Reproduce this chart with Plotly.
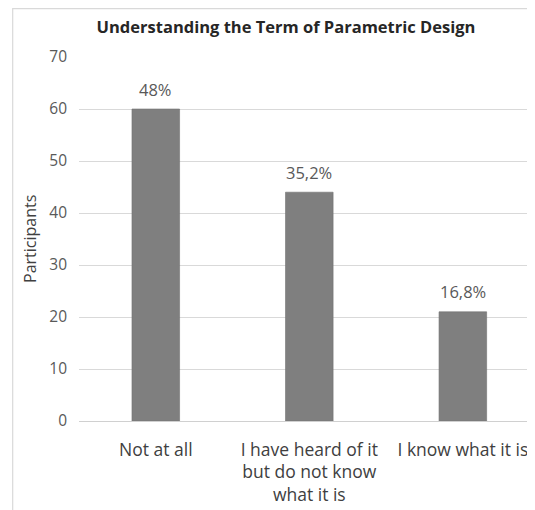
import plotly.graph_objects as go

categories = ["Not at all", "I have heard of it<br>but do not know<br>what it is", "I know what it is"]
participants = [60, 44, 21]
pct_labels = ["48%", "35,2%", "16,8%"]
y_ticks = [0, 10, 20, 30, 40, 50, 60, 70]

FONT = "Open Sans"
GRAY_TXT = "#595959"

fig = go.Figure()
fig.add_trace(go.Bar(
    x=categories, y=participants,
    marker=dict(color="#7f7f7f", line=dict(color="#727272", width=0.6)),
    hoverinfo="skip",
))

for c, v, t in zip(categories, participants, pct_labels):
    fig.add_annotation(x=c, y=v, text=t, showarrow=False, yanchor="middle",
                       yshift=20, font=dict(family=FONT, size=16.5, color=GRAY_TXT))

fig.add_annotation(xref="paper", yref="paper", x=-0.1075, y=0.5, text="Participants",
                   textangle=-90, showarrow=False, xanchor="center", yanchor="middle",
                   font=dict(family=FONT, size=16, color="#404040"))

fig.add_shape(type="rect", xref="paper", yref="paper",
              x0=-0.1454, x1=1.05, y0=-0.3, y1=1.133,
              line=dict(color="#d9d9d9", width=1.2), fillcolor="rgba(0,0,0,0)", layer="below")

fig.update_layout(
    width=527, height=502,
    margin=dict(l=71, r=0, t=49, b=88.5, autoexpand=False),
    paper_bgcolor="white", plot_bgcolor="white",
    bargap=0.69,
    showlegend=False,
    title=dict(text="<b>Understanding the Term of Parametric Design</b>",
               x=0.5275, xref="container", xanchor="center",
               y=1 - 19 / 502, yref="container", yanchor="middle",
               font=dict(family=FONT, size=16.5, color="#262626")),
    font=dict(family=FONT, color=GRAY_TXT),
)
fig.update_xaxes(range=[-0.5, 2.47], showgrid=False, showline=False, ticks="",
                 ticklabelstandoff=16, automargin=False,
                 tickfont=dict(family=FONT, size=17.5, color="#404040"), fixedrange=True)
fig.update_yaxes(range=[0, 70], tickvals=y_ticks, showgrid=True, gridcolor="#d9d9d9",
                 gridwidth=1, zeroline=True, zerolinecolor="#d0d0d0", zerolinewidth=1,
                 showline=False, ticks="", ticklabelstandoff=11, automargin=False,
                 tickfont=dict(family=FONT, size=15.5, color=GRAY_TXT))

fig.write_html("out.html")
